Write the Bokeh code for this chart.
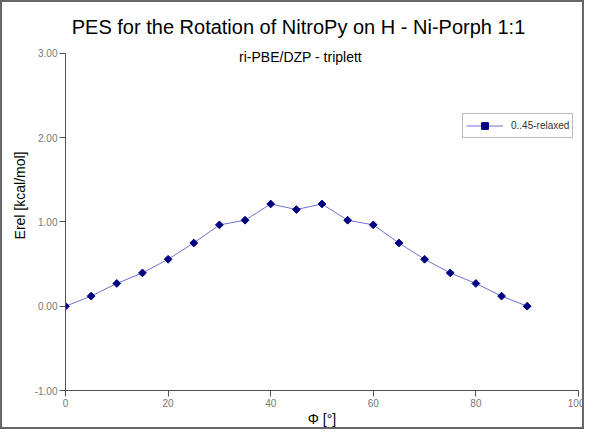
from bokeh.plotting import figure
from bokeh.models import (ColumnDataSource, Label, Legend, LegendItem,
                          FixedTicker, NumeralTickFormatter, Range1d)
from bokeh.embed import file_html
from bokeh.resources import INLINE
import math

# ---- data ----
phi = [0, 5, 10, 15, 20, 25, 30, 35, 40, 45, 50, 55, 60, 65, 70, 75, 80, 85, 90]
erel = [0.00, 0.12, 0.27, 0.395, 0.557, 0.75, 0.965, 1.02, 1.213, 1.147, 1.213,
        1.02, 0.965, 0.75, 0.557, 0.395, 0.27, 0.12, 0.00]
series_name = "0..45-relaxed"
x_ticks = [0, 20, 40, 60, 80, 100]
y_ticks = [-1, 0, 1, 2, 3]
x_lim = (0, 100)
y_lim = (-1, 3)

title_text = "PES for the Rotation of NitroPy on H - Ni-Porph 1:1"
subtitle_text = "ri-PBE/DZP - triplett"

FONT = "Liberation Sans"

# layout (pixels)
W, H = 584, 429
AXIS_TOP = 53          # pixel position of the y-axis top (3.00)
FRAME_BOTTOM = 38
AX_H = H - AXIS_TOP - FRAME_BOTTOM
# the frame extends to the top of the canvas so the titles are not clipped;
# the y-axis itself is bounded to y_lim
y_end = y_lim[1] + AXIS_TOP * (y_lim[1] - y_lim[0]) / AX_H

p = figure(width=W, height=H, output_backend="svg", toolbar_location=None,
           x_range=Range1d(*x_lim), y_range=Range1d(y_lim[0], y_end),
           min_border_left=65, min_border_right=6, min_border_top=0,
           min_border_bottom=FRAME_BOTTOM)
p.title = None
p.outline_line_color = None
p.xgrid.visible = False
p.ygrid.visible = False
# transparent canvas over a white host with an inset grey frame
p.background_fill_alpha = 0
p.border_fill_alpha = 0
p.styles = {"background-color": "white",
            "box-shadow": "inset 0 0 0 2px #666666"}

src = ColumnDataSource(dict(x=phi, y=erel))
ln = p.line("x", "y", source=src, line_color="#7070d0", line_width=1)
sc = p.scatter("x", "y", source=src, marker="square", angle=math.pi / 4,
               size=5.5, fill_color="#000080", line_color="#000080")

for ax in (p.xaxis[0], p.yaxis[0]):
    ax.axis_line_color = "#505050"
    ax.major_tick_line_color = "#505050"
    ax.major_tick_in = 0
    ax.major_tick_out = 6
    ax.minor_tick_line_color = None
    ax.major_label_text_font = FONT
    ax.major_label_text_font_size = "10px"
    ax.major_label_text_color = "#777777"
    ax.axis_label_text_font = FONT
    ax.axis_label_text_font_size = "14px"
    ax.axis_label_text_font_style = "normal"
    ax.axis_label_text_color = "#000000"

p.xaxis.ticker = FixedTicker(ticks=x_ticks)
p.yaxis.ticker = FixedTicker(ticks=y_ticks)
p.yaxis.bounds = y_lim
p.yaxis.formatter = NumeralTickFormatter(format="0.00")
p.xaxis.major_label_standoff = 2
p.yaxis.major_label_standoff = 2
p.xaxis.axis_label = "\u03a6 [\u00b0]"
p.yaxis.axis_label = "Erel [kcal/mol]"
p.xaxis.axis_label_standoff = 1
p.yaxis.axis_label_standoff = 4

legend = Legend(items=[LegendItem(label=series_name, renderers=[ln, sc])],
                location=(397, 252), orientation="vertical",
                glyph_width=37, glyph_height=17, label_height=14,
                label_standoff=8, padding=3, margin=0, spacing=0,
                border_line_color="#777777", border_line_width=1,
                label_text_font=FONT, label_text_font_size="10px",
                label_text_color="#333333", background_fill_color="white",
                background_fill_alpha=1)
p.add_layout(legend, "center")

p.add_layout(Label(x=233, y=AX_H + AXIS_TOP - 27, x_units="screen", y_units="screen",
                   text=title_text, text_align="center", text_baseline="middle",
                   text_font=FONT, text_font_size="20px", text_color="#000000"))
p.add_layout(Label(x=235, y=AX_H + AXIS_TOP - 57, x_units="screen", y_units="screen",
                   text=subtitle_text, text_align="center", text_baseline="middle",
                   text_font=FONT, text_font_size="14px", text_color="#000000"))

open("out.html", "w").write(file_html(p, INLINE))
